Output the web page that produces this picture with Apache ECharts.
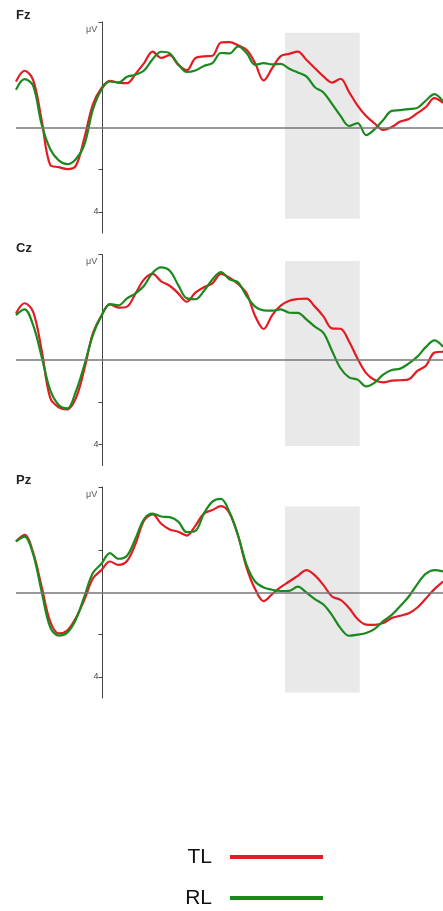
<!DOCTYPE html>
<html>
<head>
<meta charset="utf-8">
<script src="https://cdn.jsdelivr.net/npm/echarts@6/dist/echarts.min.js"></script>
<style>
  html, body { margin: 0; padding: 0; background: #fff; }
  #erp { width: 443px; height: 911px; }
</style>
</head>
<body>
<div id="erp"></div>
<script>
// time points (ms)
var times = [-200,-180,-160,-140,-120,-100,-80,-60,-40,-20,0,20,40,60,80,100,120,140,160,180,
  200,220,240,260,280,300,320,340,360,380,400,420,440,460,480,500,520,540,560,580,
  600,620,640,660,680,700,720,740,760,780,800];

var channels = ['Fz', 'Cz', 'Pz'];

// TL (red) / RL (green), µV, negative up
var fzTL = [-2.18,-2.69,-2.26,-0.36,1.77,1.88,1.97,1.82,0.50,-1.09,-1.87,-2.21,-2.13,-2.10,-2.54,-3.05,-3.60,-3.30,-3.43,-2.97,
  -2.72,-3.29,-3.37,-3.40,-4.03,-4.05,-3.90,-3.68,-3.05,-2.23,-2.81,-3.38,-3.49,-3.60,-3.21,-2.81,-2.42,-2.13,-2.31,-1.68,
  -1.04,-0.54,-0.19,0.11,-0.02,-0.28,-0.40,-0.68,-0.97,-1.39,-1.16];
var fzRL = [-1.79,-2.29,-1.98,-0.15,1.02,1.56,1.74,1.50,0.82,-0.84,-1.79,-2.18,-2.13,-2.40,-2.50,-2.70,-3.24,-3.59,-3.51,-3.00,
  -2.63,-2.70,-2.92,-3.05,-3.53,-3.51,-3.84,-3.53,-2.97,-3.05,-2.99,-3.02,-2.78,-2.61,-2.42,-1.91,-1.66,-1.12,-0.55,-0.07,
  -0.21,0.36,0.08,-0.36,-0.79,-0.82,-0.87,-0.93,-1.28,-1.58,-1.23];
var czTL = [-2.21,-2.69,-2.29,-0.47,1.79,2.24,2.34,1.82,0.44,-1.26,-2.10,-2.64,-2.48,-2.53,-3.16,-3.82,-4.08,-3.73,-3.52,-3.16,
  -2.76,-3.19,-3.45,-3.63,-4.08,-3.90,-3.60,-3.16,-2.09,-1.47,-2.13,-2.58,-2.81,-2.89,-2.91,-2.53,-2.07,-1.50,-1.48,-0.88,
  -0.06,0.62,0.95,1.06,0.98,0.96,0.91,0.52,0.27,-0.35,-0.39];
var czRL = [-2.13,-2.40,-1.66,-0.16,1.42,2.13,2.29,1.50,0.24,-1.18,-2.09,-2.65,-2.59,-2.92,-3.16,-3.52,-4.14,-4.39,-4.23,-3.55,
  -2.92,-2.88,-3.27,-3.82,-4.17,-3.82,-3.68,-3.03,-2.53,-2.35,-2.34,-2.40,-2.24,-2.23,-1.93,-1.58,-1.29,-0.44,0.39,0.82,
  0.93,1.25,1.07,0.69,0.47,0.41,0.16,-0.16,-0.62,-0.93,-0.63];
var pzTL = [-2.42,-2.73,-1.90,-0.28,1.37,1.94,1.80,1.21,0.35,-0.66,-1.06,-1.47,-1.31,-1.49,-2.31,-3.41,-3.70,-3.26,-2.99,-2.88,
  -2.70,-3.16,-3.74,-3.91,-4.09,-3.76,-2.70,-1.18,-0.16,0.41,0.08,-0.26,-0.52,-0.79,-1.06,-0.81,-0.35,0.19,0.35,0.73,
  1.26,1.52,1.53,1.45,1.21,1.10,0.98,0.71,0.28,-0.16,-0.52];
var pzRL = [-2.42,-2.65,-1.83,-0.05,1.64,2.04,1.90,1.29,0.19,-0.92,-1.36,-1.87,-1.60,-1.74,-2.56,-3.48,-3.74,-3.60,-3.57,-3.36,
  -2.86,-2.92,-3.74,-4.31,-4.44,-3.80,-2.70,-1.31,-0.52,-0.24,-0.13,-0.07,-0.08,-0.28,0.00,0.31,0.57,1.07,1.69,2.05,
  2.00,1.92,1.72,1.36,1.06,0.64,0.19,-0.40,-0.89,-1.06,-1.00];

var tlData = [fzTL, czTL, pzTL];
var rlData = [fzRL, czRL, pzRL];

// shaded window (ms) and its vertical extent per panel (µV)
var windowMs = [430, 605];
var shadeTop = [-4.49, -4.69, -4.08];
var shadeBottom = [4.33, 4.08, 4.74];

var gridTops = [22, 254.5, 487];
var tickValues = [[-5, 2, 4], [-5, 2, 4], [-5, -2, 2, 4]];

var RED = '#e31b23';
var GREEN = '#1a8a1e';
var FONT = '"Liberation Sans", Arial, sans-serif';

function pairs(vals) {
  return times.map(function (t, i) { return [t, vals[i]]; });
}

// 灰色矩形（自定义系列，坐标经过轴换算）
function renderShade(params, api) {
  var p0 = api.coord([api.value(0), api.value(1)]);
  var p1 = api.coord([api.value(2), api.value(3)]);
  return {
    type: 'rect',
    shape: { x: p0[0], y: p0[1], width: p1[0] - p0[0], height: p1[1] - p0[1] },
    style: { fill: '#e9e9e9' }
  };
}

window.onload = function () {
  var chart = echarts.init(document.getElementById('erp'));

  var grid = [], xAxis = [], yAxis = [], series = [], title = [], graphic = [];

  channels.forEach(function (ch, i) {
    grid.push({ left: 16, width: 427, top: gridTops[i], height: 211 });

    title.push({
      text: ch, left: 16, top: gridTops[i] - 13, padding: 0,
      textStyle: { fontSize: 13, fontWeight: 'bold', color: '#222', fontFamily: FONT }
    });

    graphic.push({
      type: 'text', left: 86, top: gridTops[i] + 3,
      style: { text: 'μV', fontSize: 9, fill: '#555', font: '9px ' + FONT }
    });

    xAxis.push({
      type: 'value', gridIndex: i, min: -200, max: 800,
      axisLine: { show: false },
      axisTick: { show: false },
      axisLabel: { show: false },
      splitLine: { show: false }
    });

    // y 轴放在 0 ms 处
    yAxis.push({
      type: 'value', gridIndex: i, min: -5, max: 5, inverse: true,
      position: 'left', offset: -86.5,
      axisLine: { show: true, onZero: false, lineStyle: { color: '#444', width: 1 } },
      axisTick: { show: true, length: 4, customValues: tickValues[i], lineStyle: { color: '#444' } },
      axisLabel: { show: true, customValues: [4], margin: 4, fontSize: 9, color: '#444', fontFamily: FONT },
      splitLine: { show: false }
    });

    series.push({
      type: 'custom', xAxisIndex: i, yAxisIndex: i, z: 1, silent: true,
      renderItem: renderShade,
      encode: { x: [0, 2], y: [1, 3] },
      data: [[windowMs[0], shadeTop[i], windowMs[1], shadeBottom[i]]]
    });

    // 零线
    series.push({
      type: 'line', xAxisIndex: i, yAxisIndex: i, data: [], z: 2,
      markLine: {
        silent: true, symbol: 'none', label: { show: false },
        lineStyle: { color: '#777', width: 1.5, type: 'solid' },
        data: [{ yAxis: 0 }]
      }
    });

    series.push({
      name: 'TL', type: 'line', xAxisIndex: i, yAxisIndex: i, z: 3,
      showSymbol: false, smooth: 0.35,
      lineStyle: { color: RED, width: 2.2 }, itemStyle: { color: RED },
      data: pairs(tlData[i])
    });
    series.push({
      name: 'RL', type: 'line', xAxisIndex: i, yAxisIndex: i, z: 4,
      showSymbol: false, smooth: 0.35,
      lineStyle: { color: GREEN, width: 2.2 }, itemStyle: { color: GREEN },
      data: pairs(rlData[i])
    });
  });

  chart.setOption({
    animation: false,
    title: title,
    graphic: graphic,
    grid: grid,
    xAxis: xAxis,
    yAxis: yAxis,
    legend: {
      data: ['TL', 'RL'],
      orient: 'vertical', align: 'right',
      right: 120, top: 845, padding: 0,
      icon: 'rect', itemWidth: 93, itemHeight: 4, itemGap: 17,
      textStyle: { fontSize: 21, lineHeight: 24, color: '#111', fontFamily: FONT, padding: [0, 13, 0, 0] }
    },
    series: series
  });
};
</script>
</body>
</html>
